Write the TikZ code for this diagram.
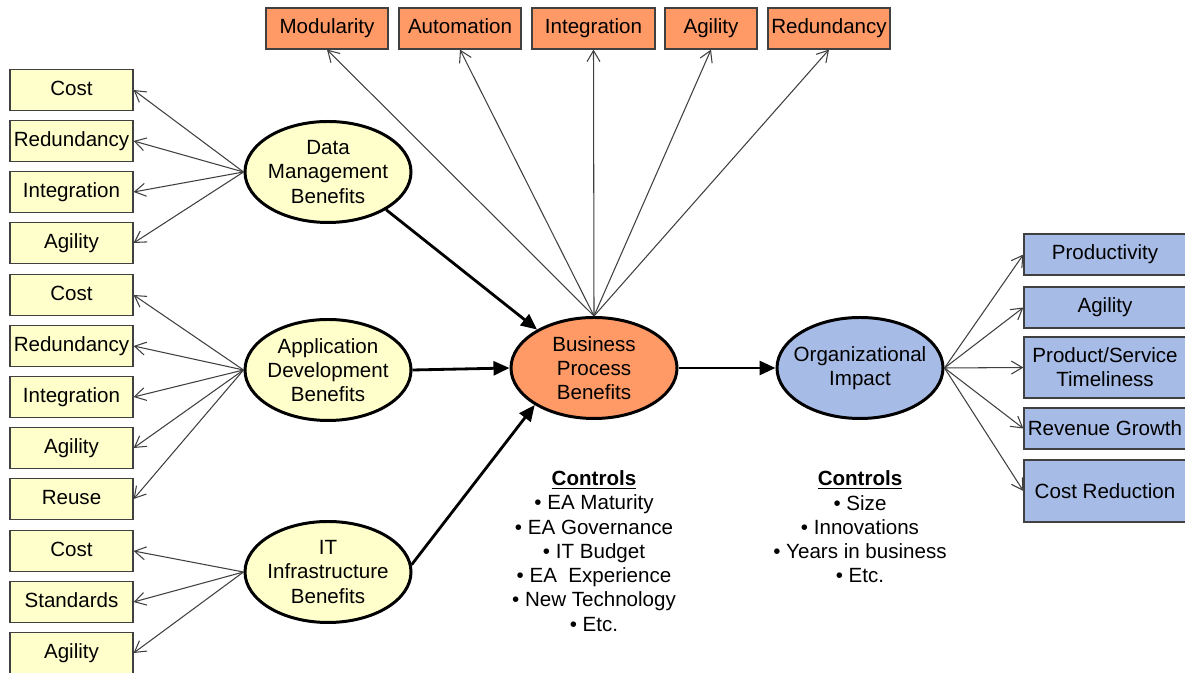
\documentclass[tikz,border=0pt]{standalone}
\usepackage{fontspec}
\setmainfont{Liberation Sans}
\usetikzlibrary{arrows.meta}
\usetikzlibrary{shapes.geometric}
\definecolor{paleyellow}{RGB}{255,255,204}
\definecolor{salmon}{RGB}{255,153,102}
\definecolor{steel}{RGB}{166,187,230}
\definecolor{inkgray}{RGB}{64,64,64}

\begin{document}
\begin{tikzpicture}[scale=1,
        font=\fontsize{11.7}{13.8}\selectfont,
        ybox/.style={draw=inkgray, line width=0.7pt, fill=paleyellow, minimum width=2.46cm, minimum height=0.82cm, inner sep=0pt, text height=8.6pt, text depth=2.6pt},
        obox/.style={draw=inkgray, line width=0.7pt, fill=salmon, minimum width=2.44cm, minimum height=0.82cm, inner sep=0pt, text height=8.6pt, text depth=2.6pt},
        bbox/.style={draw=inkgray, line width=0.7pt, fill=steel, minimum width=3.24cm, minimum height=0.82cm, inner sep=0pt, align=center},
        bubble/.style={ellipse, draw=black, line width=1.7pt, minimum width=3.32cm, minimum height=2.02cm, inner xsep=-5pt, inner ysep=0pt, align=center},
        spoke/.style={-{Straight Barb[length=2.2mm,width=2.6mm]}, inkgray, line width=0.6pt},
        flow/.style={-{Triangle[length=3.2mm,width=2.8mm]}, black, line width=1.6pt}]

        \path[use as bounding box, fill=white] (0,0) rectangle (23.7,13.46);

\node[ybox] (dmcost) at (1.43,11.66) {Cost};
\node[ybox] (dmred) at (1.43,10.64) {Redundancy};
\node[ybox] (dmint) at (1.43,9.62) {Integration};
\node[ybox] (dmagi) at (1.43,8.60) {Agility};
\node[ybox] (adcost) at (1.43,7.56) {Cost};
\node[ybox] (adred) at (1.43,6.54) {Redundancy};
\node[ybox] (adint) at (1.43,5.52) {Integration};
\node[ybox] (adagi) at (1.43,4.50) {Agility};
\node[ybox] (adreu) at (1.43,3.48) {Reuse};
\node[ybox] (itcost) at (1.43,2.44) {Cost};
\node[ybox] (itstd) at (1.43,1.42) {Standards};
\node[ybox] (itagi) at (1.43,0.40) {Agility};

\node[bubble, fill=paleyellow] (dm) at (6.56,10.02) {Data\\Management\\Benefits};
\node[bubble, fill=paleyellow] (ad) at (6.56,6.06) {Application\\Development\\Benefits};
\node[bubble, fill=paleyellow] (it) at (6.56,2.02) {IT\\Infrastructure\\Benefits};
\node[bubble, fill=salmon] (bp) at (11.88,6.10) {Business\\Process\\Benefits};
\node[bubble, fill=steel] (oi) at (17.20,6.10) {Organizational\\Impact};

\node[obox] (tmod) at (6.54,12.89) {Modularity};
\node[obox] (taut) at (9.20,12.89) {Automation};
\node[obox, minimum width=2.46cm] (tint) at (11.87,12.89) {Integration};
\node[obox, minimum width=1.84cm] (tagi) at (14.22,12.89) {Agility};
\node[obox] (tred) at (16.58,12.89) {Redundancy};

\node[bbox] (rprod) at (22.10,8.37) {Productivity};
\node[bbox] (ragi) at (22.10,7.31) {Agility};
\node[bbox, minimum height=1.22cm] (rtime) at (22.10,6.11) {Product/Service\\Timeliness};
\node[bbox] (rrev) at (22.10,4.89) {Revenue Growth};
\node[bbox, minimum height=1.24cm] (rcost) at (22.10,3.64) {Cost Reduction};

\node[align=center] (bpctl) at (11.88,2.44) {\underline{\textbf{Controls}}\\\textbullet\ EA Maturity\\\textbullet\ EA Governance\\\textbullet\ IT Budget\\\textbullet\ EA\ \ Experience\\\textbullet\ New Technology\\\textbullet\ Etc.};
\node[align=center] (oictl) at (17.20,2.92) {\underline{\textbf{Controls}}\\\textbullet\ Size\\\textbullet\ Innovations\\\textbullet\ Years in business\\\textbullet\ Etc.};

\draw[spoke] (dm.west) -- (dmcost.east);
\draw[spoke] (dm.west) -- (dmred.east);
\draw[spoke] (dm.west) -- (dmint.east);
\draw[spoke] (dm.west) -- (dmagi.east);
\draw[spoke] (ad.west) -- (adcost.east);
\draw[spoke] (ad.west) -- (adred.east);
\draw[spoke] (ad.west) -- (adint.east);
\draw[spoke] (ad.west) -- (adagi.east);
\draw[spoke] (ad.west) -- (adreu.east);
\draw[spoke] (it.west) -- (itcost.east);
\draw[spoke] (it.west) -- (itstd.east);
\draw[spoke] (it.west) -- (itagi.east);
\draw[spoke] (bp.north) -- (tmod.south);
\draw[spoke] (bp.north) -- (taut.south);
\draw[spoke] (bp.north) -- (tint.south);
\draw[spoke] (bp.north) -- (tagi.south);
\draw[spoke] (bp.north) -- (tred.south);
\draw[spoke] (oi.east) -- (rprod.west);
\draw[spoke] (oi.east) -- (ragi.west);
\draw[spoke] (oi.east) -- (rtime.west);
\draw[spoke] (oi.east) -- (rrev.west);
\draw[spoke] (oi.east) -- (rcost.west);
\draw[flow] (dm.327) -- (bp.146);
\draw[flow] (ad.east) -- (bp.west);
\draw[flow] (it.5) -- (bp.212);
\draw[flow] (bp.east) -- (oi.west);

    \end{tikzpicture}
\end{document}
